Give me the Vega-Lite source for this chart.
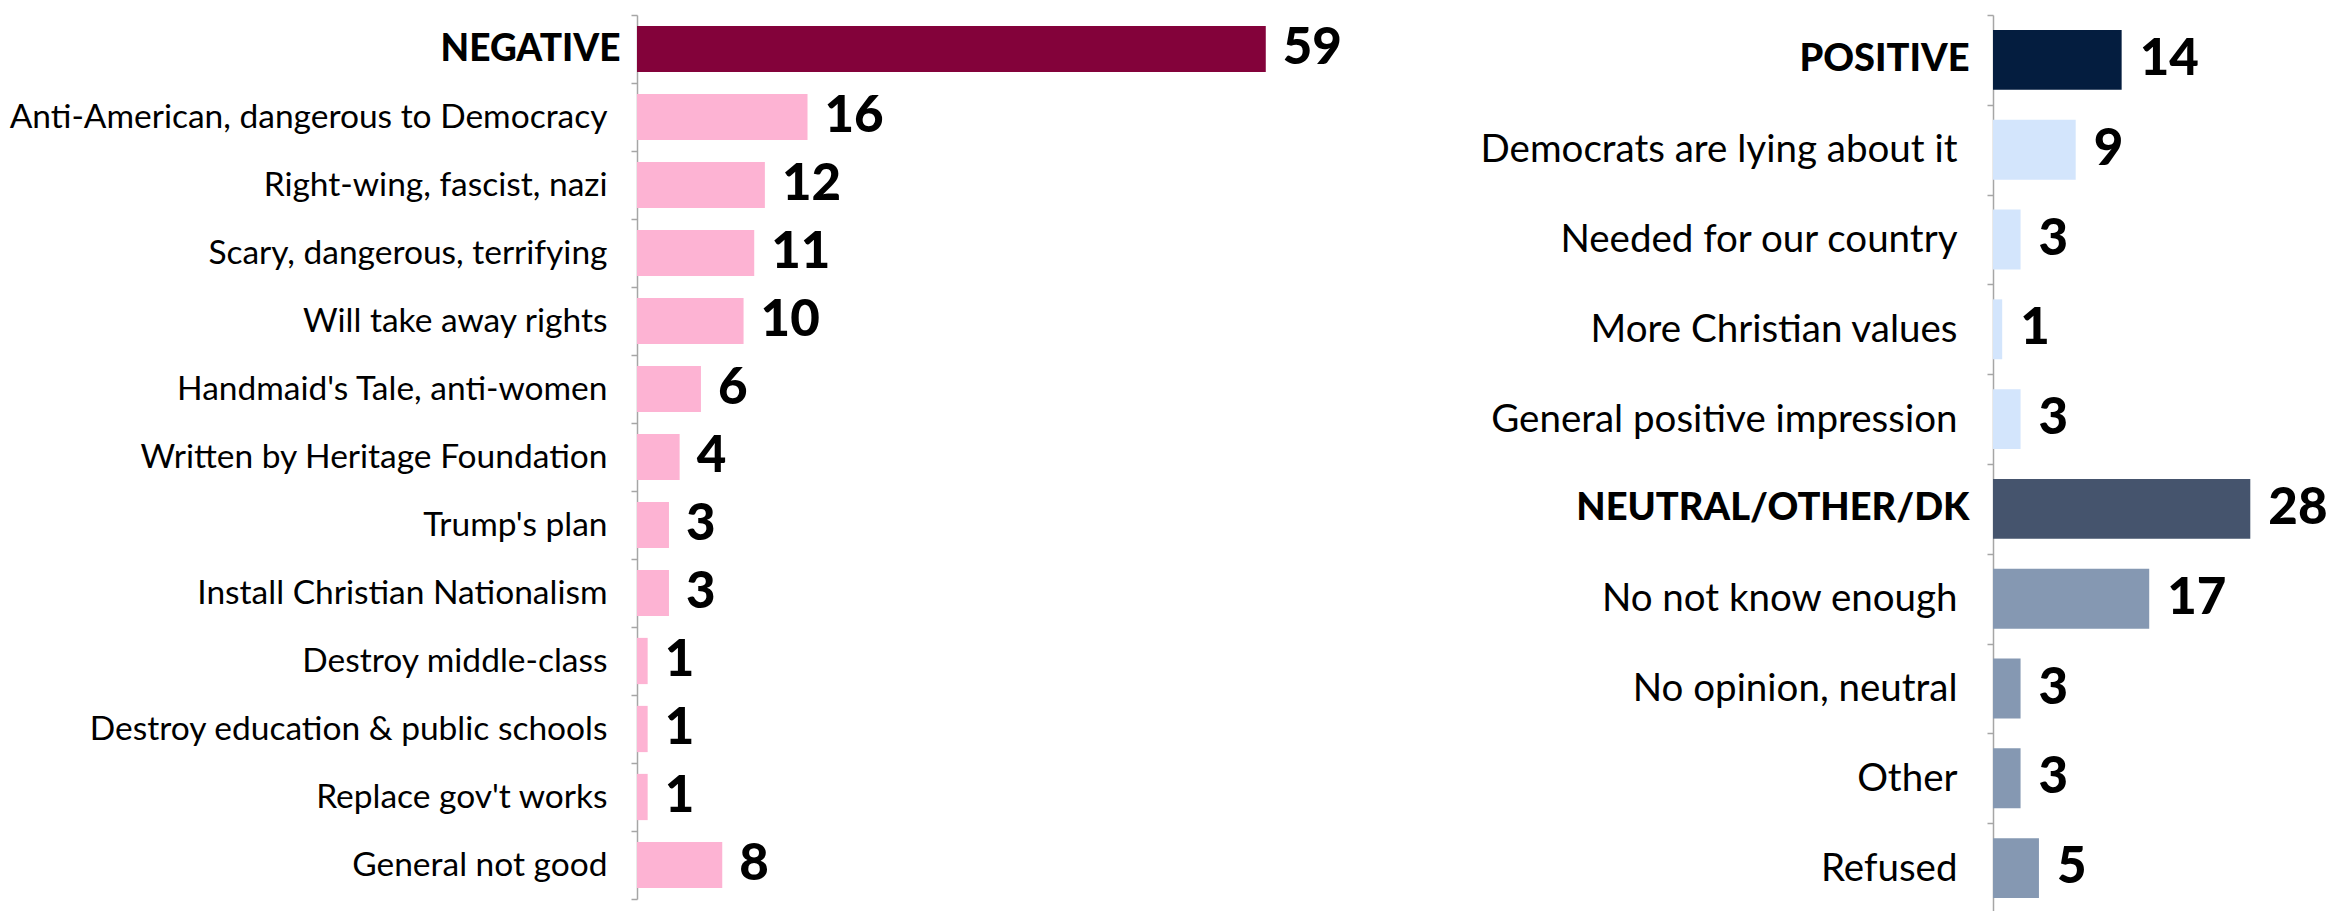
{
  "$schema": "https://vega.github.io/schema/vega-lite/v6.json",
  "padding": {"left": 0, "top": -4, "right": 0, "bottom": 0},
  "background": "white",
  "spacing": 10,
  "config": {"view": {"stroke": null}, "font": "Lato"},
  "resolve": {"scale": {"color": "independent"}},
  "datasets": {
    "left": [
      {"item": "NEGATIVE", "pct": 59, "type": "Negative total"},
      {"item": "Anti-American, dangerous to Democracy", "pct": 16, "type": "Negative"},
      {"item": "Right-wing, fascist, nazi", "pct": 12, "type": "Negative"},
      {"item": "Scary, dangerous, terrifying", "pct": 11, "type": "Negative"},
      {"item": "Will take away rights", "pct": 10, "type": "Negative"},
      {"item": "Handmaid's Tale, anti-women", "pct": 6, "type": "Negative"},
      {"item": "Written by Heritage Foundation", "pct": 4, "type": "Negative"},
      {"item": "Trump's plan", "pct": 3, "type": "Negative"},
      {"item": "Install Christian Nationalism", "pct": 3, "type": "Negative"},
      {"item": "Destroy middle-class", "pct": 1, "type": "Negative"},
      {"item": "Destroy education & public schools", "pct": 1, "type": "Negative"},
      {"item": "Replace gov't works", "pct": 1, "type": "Negative"},
      {"item": "General not good", "pct": 8, "type": "Negative"}
    ],
    "right": [
      {"item": "POSITIVE", "pct": 14, "type": "Positive total"},
      {"item": "Democrats are lying about it", "pct": 9, "type": "Positive"},
      {"item": "Needed for our country", "pct": 3, "type": "Positive"},
      {"item": "More Christian values", "pct": 1, "type": "Positive"},
      {"item": "General positive impression", "pct": 3, "type": "Positive"},
      {"item": "NEUTRAL/OTHER/DK", "pct": 28, "type": "Neutral total"},
      {"item": "No not know enough", "pct": 17, "type": "Neutral"},
      {"item": "No opinion, neutral", "pct": 3, "type": "Neutral"},
      {"item": "Other", "pct": 3, "type": "Neutral"},
      {"item": "Refused", "pct": 5, "type": "Neutral"}
    ]
  },
  "hconcat": [
    {
      "width": 746,
      "height": 884,
      "data": {"name": "left"},
      "encoding": {
        "y": {
          "field": "item", "type": "nominal", "sort": null,
          "scale": {"paddingInner": 0, "paddingOuter": 0},
          "axis": {
            "title": null,
            "domainColor": "#A6A6A6", "domainWidth": 1.5,
            "tickColor": "#A6A6A6", "tickWidth": 1.5, "tickSize": 6,
            "tickBand": "extent",
            "labelFont": "Lato", "labelColor": "black",
            "labelLimit": 1000,
            "minExtent": 637, "maxExtent": 637,
            "labelFontSize": {"condition": {"test": "datum.value === 'NEGATIVE'", "value": 37}, "value": 33.5},
            "labelPadding": {"condition": {"test": "datum.value === 'NEGATIVE'", "value": 11}, "value": 24},
            "labelFontWeight": {"condition": {"test": "datum.value === 'NEGATIVE'", "value": 900}, "value": "normal"}
          }
        },
        "x": {"field": "pct", "type": "quantitative", "scale": {"domain": [0, 70]}, "axis": null}
      },
      "layer": [
        {
          "mark": {"type": "bar", "height": {"band": 0.68}},
          "encoding": {
            "color": {
              "field": "type", "type": "nominal", "legend": null,
              "scale": {"domain": ["Negative total", "Negative"], "range": ["#83023A", "#FDB3D3"]}
            }
          }
        },
        {
          "mark": {"type": "text", "align": "left", "baseline": "middle", "dx": 17, "fontSize": 51, "fontWeight": 900, "font": "Lato", "color": "black"},
          "encoding": {"text": {"field": "pct", "type": "quantitative"}}
        }
      ]
    },
    {
      "width": 340,
      "height": 898,
      "data": {"name": "right"},
      "encoding": {
        "y": {
          "field": "item", "type": "nominal", "sort": null,
          "scale": {"paddingInner": 0, "paddingOuter": 0},
          "axis": {
            "title": null,
            "domainColor": "#A6A6A6", "domainWidth": 1.5,
            "tickColor": "#A6A6A6", "tickWidth": 1.5, "tickSize": 6,
            "tickBand": "extent",
            "labelFont": "Lato", "labelColor": "black",
            "labelLimit": 1000,
            "minExtent": 600, "maxExtent": 600,
            "labelFontSize": {"condition": {"test": "datum.value === 'POSITIVE' || datum.value === 'NEUTRAL/OTHER/DK'", "value": 38}, "value": 38.5},
            "labelPadding": {"condition": {"test": "datum.value === 'POSITIVE' || datum.value === 'NEUTRAL/OTHER/DK'", "value": 18}, "value": 30},
            "labelFontWeight": {"condition": {"test": "datum.value === 'POSITIVE' || datum.value === 'NEUTRAL/OTHER/DK'", "value": 900}, "value": "normal"}
          }
        },
        "x": {"field": "pct", "type": "quantitative", "scale": {"domain": [0, 37]}, "axis": null}
      },
      "layer": [
        {
          "mark": {"type": "bar", "height": {"band": 0.667}},
          "encoding": {
            "color": {
              "field": "type", "type": "nominal", "legend": null,
              "scale": {"domain": ["Positive total", "Positive", "Neutral total", "Neutral"], "range": ["#041D3F", "#D3E5FC", "#45546D", "#8598B2"]}
            }
          }
        },
        {
          "mark": {"type": "text", "align": "left", "baseline": "middle", "dx": 18, "fontSize": 51, "fontWeight": 900, "font": "Lato", "color": "black"},
          "encoding": {"text": {"field": "pct", "type": "quantitative"}}
        }
      ]
    }
  ]
}
